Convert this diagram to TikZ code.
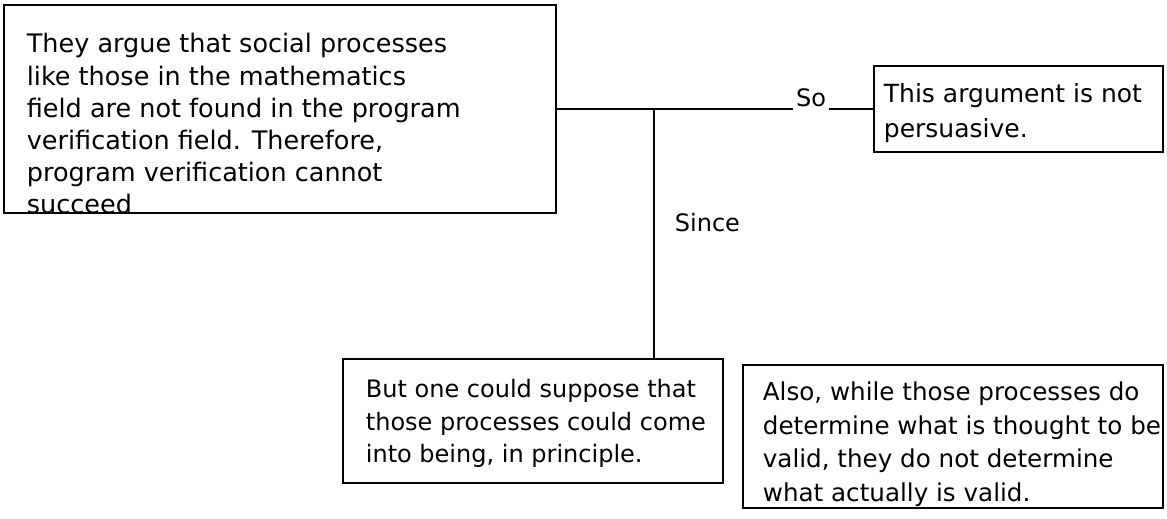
\documentclass[tikz,border=0pt]{standalone}
\usepackage{fontspec}
\setmainfont{DejaVu Sans}
\usepackage{tikz}

\begin{document}
\begin{tikzpicture}[x=0.5pt,y=-0.5pt,
    argbox/.style={draw=black,line width=0.9pt,inner sep=0pt,anchor=north west},
    argtext/.style={anchor=north west,inner sep=0pt,align=left},
    linkword/.style={inner sep=1pt,font=\fontsize{12}{14}\selectfont}]
\useasboundingbox (0,0) rectangle (1167,519);
\begin{scope}[line width=0.9pt]
    \node[argbox,minimum width=276pt,minimum height=104pt] (claim) at (3,4) {};
    \node[argtext,font=\fontsize{12.75}{16.1}\selectfont] (claimtext) at (26,29.5)
        {\strut They argue that social processes\\
         like those in the mathematics\\
         field are not found in the program\\
         verification field.  Therefore,\\
         program verification cannot\\
         succeed};

    \node[argbox,minimum width=144.5pt,minimum height=43pt] (persuade) at (873,65) {};
    \node[argtext,font=\fontsize{12.5}{17.5}\selectfont] (persuadetext) at (883,77.5)
        {\strut This argument is not\\ persuasive.};

    \node[argbox,minimum width=190pt,minimum height=62pt] (support) at (342,358) {};
    \node[argtext,font=\fontsize{12}{16.25}\selectfont] (supporttext) at (365,374)
        {\strut But one could suppose that\\
         those processes could come\\
         into being, in principle.};

    \node[argbox,minimum width=210pt,minimum height=71.5pt] (rebut) at (742,364) {};
    \node[argtext,font=\fontsize{12.3}{16.75}\selectfont] (rebuttext) at (762,376.5)
        {\strut Also, while those processes do\\
         determine what is thought to be\\
         valid, they do not determine\\
         what actually is valid.};

    \node[linkword,anchor=base] (so) at (811,106) {So};
    \node[linkword,anchor=west] (since) at (672,223) {Since};
    \coordinate (split) at (654,108);

    \draw (claim.east) -- (claim.east -| so.west);
    \draw (so.east |- persuade.west) -- (persuade.west);
    \draw (split) -- (split |- support.north);
\end{scope}
\end{tikzpicture}
\end{document}
